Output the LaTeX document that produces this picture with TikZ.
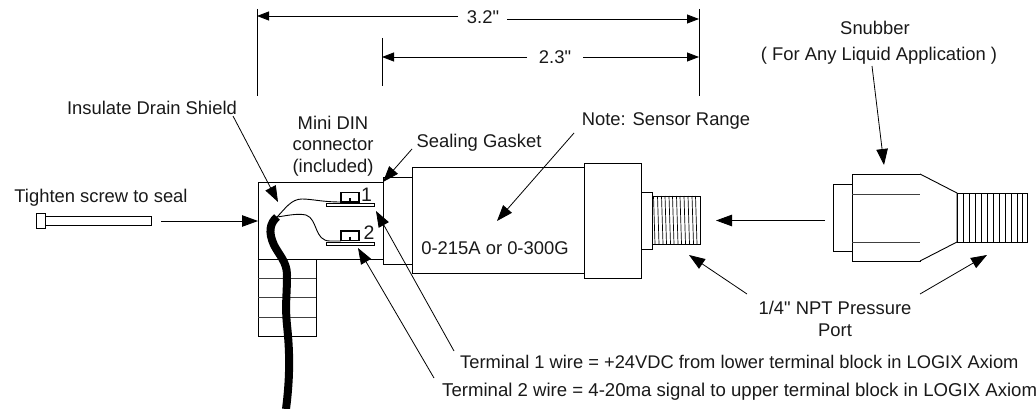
\documentclass[tikz,border=0pt]{standalone}
\usepackage{fontspec}
\newfontfamily\labfont{Liberation Sans}
\usetikzlibrary{arrows.meta}
\tikzset{
  part/.style={draw=black,fill=white,line width=0.9pt},
  thin part/.style={draw=black!75,line width=0.8pt},
  lead/.style={draw=black,line width=0.8pt,-{Triangle[length=16pt,width=11.5pt]}},
  dimlead/.style={draw=black,line width=0.8pt,-{Triangle[length=12pt,width=9pt]}},
  dimline/.style={draw=black,line width=0.8pt},
  lab/.style={inner sep=0pt,font=\labfont\fontsize{18.4}{21.5}\selectfont,text=black!90},
}
\begin{document}
\begin{tikzpicture}[x=1pt,y=-1pt]
\useasboundingbox (0,0) rectangle (1036,409);
% extension lines
\coordinate (e1a) at (257,9); \coordinate (e1b) at (257,96);
\coordinate (e2a) at (699,9); \coordinate (e2b) at (699,96);
\coordinate (e3a) at (382,38); \coordinate (e3b) at (382,86);
\draw[dimline] (e1a)--(e1b) (e2a)--(e2b) (e3a)--(e3b);
% dimension labels
\node[lab] (d32) at (483,17) {3.2"};
\node[lab] (d23) at (555,57) {2.3"};
\coordinate (d32l) at (458,16); \coordinate (d32r) at (507,19);
\coordinate (d23l) at (527,57); \coordinate (d23r) at (583,57);
\coordinate (t1) at (257,16); \coordinate (t2) at (699,19);
\coordinate (t3) at (382,57); \coordinate (t4) at (699,57);
\draw[dimlead] (d32l)--(t1);
\draw[dimlead] (d32r)--(t2);
\draw[dimlead] (d23l)--(t3);
\draw[dimlead] (d23r)--(t4);
% connector body
\draw[part] (258,259) rectangle (316,336);
\draw[thin part] (258,278)--(316,278) (258,297)--(316,297) (258,317)--(316,317);
\draw[part] (258,182) rectangle (383,259);
\draw[part] (383,177) rectangle (412,264);
% sensor body
\draw[part] (412,167) rectangle (584,273);
\draw[part] (584,163) rectangle (641,278);
\draw[part] (641,192) rectangle (652,249);
\draw[part] (652,196) rectangle (700,244);
\foreach \x in {653.5,657.5,661.5,665,669,672.5,676.5,680,684,688,692,695.5}
  \draw[black,line width=0.7pt] (\x,196)--(\x+1.5,244);
% terminals
\draw[part,fill=white] (326,203.5) rectangle (374,206.5);
\draw[part,line width=1.6pt] (341,192.5) rectangle (359,202);
\draw[black,line width=1.2pt] (350,198)--(350,202);
\draw[part] (326,242.5) rectangle (374,245);
\draw[part,line width=1.6pt] (341,231) rectangle (359,240.5);
\draw[black,line width=1.2pt] (350,236.5)--(350,240.5);
\node[lab,font=\labfont\fontsize{19.5}{21}\selectfont] (n1) at (366.5,195) {1};
\node[lab,font=\labfont\fontsize{19.5}{21}\selectfont] (n2) at (369,233) {2};
% wires
\draw[black,line width=0.9pt] (277,217) .. controls (285,209) and (291,199) .. (302,199) .. controls (312,199) and (322,202) .. (341,202);
\draw[black,line width=0.9pt] (277,217) .. controls (285,216) and (297,213) .. (306,215) .. controls (318,219) and (314,241) .. (330,241) -- (341,241);
\draw[black,line width=8pt,line cap=butt] (277,217) .. controls (270,223) and (268,232) .. (274,245) .. controls (279,255) and (287,262) .. (287,275) .. controls (287,295) and (285,305) .. (287,325) .. controls (289,345) and (291,370) .. (286,409);
% screw
\draw[part] (45,216) rectangle (151,225);
\draw[part] (36,213) rectangle (45,228);
% snubber
\draw[part] (833,184) rectangle (852,251);
\draw[part] (852,174) rectangle (920,261);
\draw[thin part] (852,194)--(920,194) (852,242)--(920,242);
\draw[part] (920,174)--(957,193)--(957,242)--(920,261);
\draw[part] (957,193) rectangle (1027,242);
\foreach \x in {963,969,975,981,987,993,999,1005,1011,1017,1022}
  \draw[black,line width=0.7pt] (\x,193)--(\x,242);
% labels
\node[lab] (tight) at (101,198) {Tighten screw to seal};
\node[lab] (drain) at (152,108) {Insulate Drain Shield};
\node[lab,align=center] (din) at (333,146) {Mini DIN\\connector\\(included)};
\node[lab] (gasket) at (479,143) {Sealing Gasket};
\node[lab] (note) at (666,121) {Note: Sensor Range};
\node[lab] (range) at (495,248) {0-215A or 0-300G};
\node[lab] (snub) at (875,28) {Snubber};
\node[lab] (liquid) at (879,56) {( For Any Liquid Application )};
\node[lab,align=center] (npt) at (835,319) {1/4" NPT Pressure\\Port};
\node[lab,anchor=west,font=\labfont\fontsize{18.3}{21.5}\selectfont] (term1) at (460,362) {Terminal 1 wire = +24VDC from lower terminal block in LOGIX Axiom};
\node[lab,anchor=west,font=\labfont\fontsize{18.6}{21.5}\selectfont] (term2) at (442,391.5) {Terminal 2 wire = 4-20ma signal to upper terminal block in LOGIX Axiom};
% leaders
\coordinate (a1) at (161,221); \coordinate (a1t) at (258,221);
\coordinate (a2) at (233,116); \coordinate (a2t) at (278,202);
\coordinate (a3) at (412,149); \coordinate (a3t) at (383,182);
\coordinate (a4) at (454,351); \coordinate (a4t) at (376,211);
\coordinate (a5) at (434,378); \coordinate (a5t) at (358,248);
\coordinate (a6) at (574,133); \coordinate (a6t) at (497,221);
\coordinate (a7) at (825,220.5); \coordinate (a7t) at (716,220.5);
\coordinate (a8) at (872,66); \coordinate (a8t) at (884,165);
\coordinate (a9) at (747,294); \coordinate (a9t) at (689,255);
\coordinate (a10) at (920,294); \coordinate (a10t) at (987,255);
\foreach \p/\q in {a1/a1t,a2/a2t,a3/a3t,a4/a4t,a5/a5t,a6/a6t,a7/a7t,a8/a8t,a9/a9t,a10/a10t}
  \draw[lead] (\p)--(\q);
\end{tikzpicture}
\end{document}
